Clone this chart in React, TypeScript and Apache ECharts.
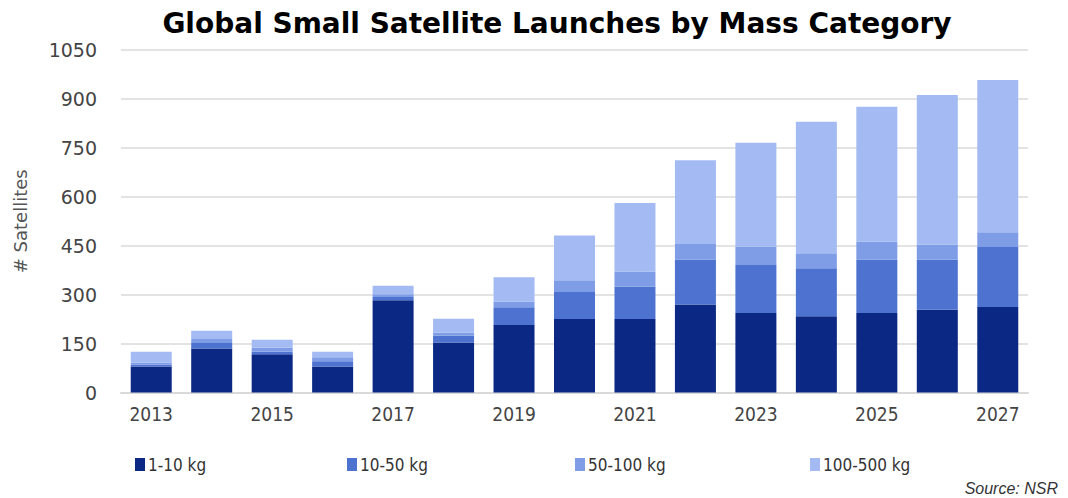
import React, { useEffect, useRef } from "react";
import * as echarts from "echarts";

const years = ["2013","2014","2015","2016","2017","2018","2019","2020","2021","2022","2023","2024","2025","2026","2027"];
const kg1_10 = [80, 135, 117, 80, 283, 153, 207, 225, 225, 270, 244, 234, 244, 254, 262];
const kg10_50 = [5, 17, 8, 16, 10, 22, 54, 83, 100, 138, 147, 147, 164, 154, 184];
const kg50_100 = [6, 12, 12, 12, 8, 8, 18, 36, 46, 47, 56, 46, 55, 46, 45];
const kg100_500 = [34, 25, 25, 17, 26, 43, 74, 137, 210, 257, 319, 403, 413, 458, 467];
const seriesNames = ["1-10 kg", "10-50 kg", "50-100 kg", "100-500 kg"];
const colors = ["#0a2884", "#4d72cf", "#7f9de6", "#a3bbf2"];

export default function App() {
  const ref = useRef<HTMLDivElement>(null);
  useEffect(() => {
    document.body.style.margin = "0";
    const chart = echarts.init(ref.current!, undefined, { renderer: "svg" });
    const values = [kg1_10, kg10_50, kg50_100, kg100_500];
    const legendLefts = [130, 342, 570, 805];
    chart.setOption({
      animation: false,
      backgroundColor: "#ffffff",
      grid: { left: 121, right: 40, top: 50, bottom: 105.5 },
      graphic: [
        {
          type: "text",
          x: 557,
          y: 23,
          style: {
            text: "Global Small Satellite Launches by Mass Category",
            font: "bold 28px 'DejaVu Sans'",
            fill: "#000000",
            textAlign: "center",
            textVerticalAlign: "middle",
          },
        },
        {
          type: "text",
          x: 1058,
          y: 488,
          style: {
            text: "Source: NSR",
            font: "italic 16px 'Liberation Sans Narrow', 'Liberation Sans'",
            fill: "#333333",
            textAlign: "right",
            textVerticalAlign: "middle",
          },
        },
      ],
      legend: seriesNames.map((n, i) => ({
        data: [n],
        left: legendLefts[i],
        top: 451,
        icon: "rect",
        itemWidth: 10,
        itemHeight: 13,
        itemGap: 4,
        selectedMode: false,
        textStyle: { fontSize: 17, color: "#333333", fontFamily: "'DejaVu Sans Condensed', 'DejaVu Sans'", padding: [0, 0, 0, -2] },
      })),
      xAxis: {
        type: "category",
        data: years,
        axisLine: { lineStyle: { color: "#d9d9d9", width: 2 } },
        axisTick: { show: false },
        axisLabel: {
          interval: 1,
          fontSize: 19,
          color: "#444444",
          margin: 12,
          fontFamily: "'DejaVu Sans Condensed', 'DejaVu Sans'",
        },
      },
      yAxis: {
        type: "value",
        min: 0,
        max: 1050,
        interval: 150,
        name: "# Satellites",
        nameLocation: "middle",
        nameGap: 92,
        nameTextStyle: { fontSize: 18, color: "#555555", fontFamily: "'DejaVu Sans'" },
        axisLine: { show: false },
        axisTick: { show: false },
        splitLine: { lineStyle: { color: "#e3e3e3", width: 2 } },
        axisLabel: {
          fontSize: 19,
          color: "#444444",
          margin: 24,
          fontFamily: "'DejaVu Sans'",
          formatter: (v: number) => String(v),
        },
      },
      series: seriesNames.map((n, i) => ({
        name: n,
        type: "bar",
        stack: "total",
        barWidth: 41,
        itemStyle: { color: colors[i] },
        data: values[i],
      })),
    });
    return () => chart.dispose();
  }, []);
  return <div ref={ref} style={{ width: 1068, height: 498 }} />;
}
